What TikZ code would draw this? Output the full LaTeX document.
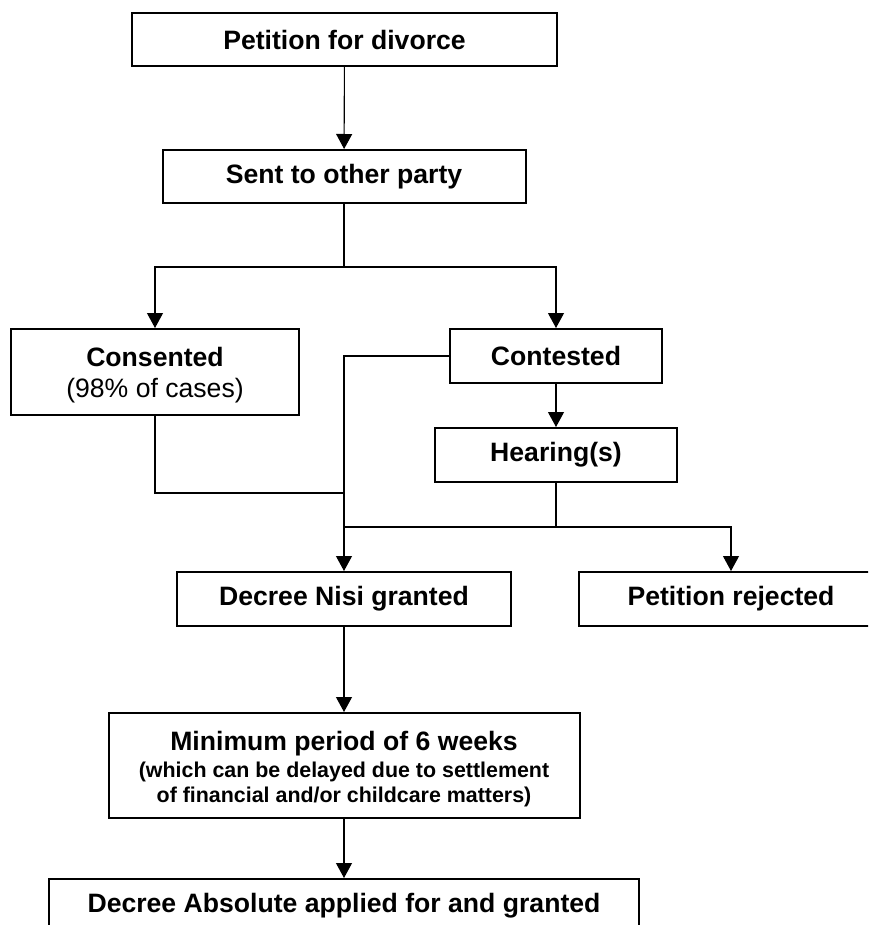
\documentclass[tikz,border=0pt]{standalone}
\usepackage{fontspec}
\setmainfont{Liberation Sans}
\usetikzlibrary{arrows.meta}
\begin{document}
\begin{tikzpicture}[x=1pt,y=-1pt,
  box/.style={draw=black,line width=2pt,inner sep=0pt,align=center,
    font=\fontsize{26.6}{32}\selectfont\bfseries},
  conn/.style={draw=black,line width=1.1pt},
  arr/.style={conn,-{Triangle[length=15pt,width=16pt]}}]
\useasboundingbox (0,0) rectangle (868,925);
\clip (0,0) rectangle (868,925);
\node[box,minimum width=425pt,minimum height=53pt] (pet) at (344.5,39.5) {Petition for divorce};
\node[box,minimum width=363pt,minimum height=53pt] (sent) at (344,176.5) {Sent to other party};
\node[box,minimum width=288pt,minimum height=86pt] (cons) at (155,372) {\rule{0pt}{25.5pt}Consented\\\mdseries(98\% of cases)};
\node[box,minimum width=212pt,minimum height=54pt] (cont) at (556,356) {Contested};
\node[box,minimum width=242pt,minimum height=54pt] (hear) at (556,455) {Hearing(s)};
\node[box,minimum width=334pt,minimum height=54pt] (nisi) at (344,599) {Decree Nisi granted};
\node[box,minimum width=304pt,minimum height=54pt] (rej) at (731,599) {Petition rejected};
\node[box,minimum width=471pt,minimum height=105pt,font=\fontsize{21.4}{25}\selectfont\bfseries] (min) at (344,765.5)
  {{\fontsize{26.6}{30}\selectfont\rule{0pt}{26pt}Minimum period of 6 weeks}\\[2pt](which can be delayed due to settlement\\of financial and/or childcare matters)};
\node[box,minimum width=590pt,minimum height=54pt] (abs) at (344,906) {Decree Absolute applied for and granted};
\coordinate (split) at (344,267);
\coordinate (cjoin) at (344,493);
\coordinate (hsplit) at (556,527);
\coordinate (hjoin) at (344,527);
\draw[arr] (pet) -- (sent);
\draw[conn] (sent.south) -- (split);
\draw[arr] (split) -| (cons.north);
\draw[arr] (split) -| (cont.north);
\draw[arr] (cont.west) -| (nisi.north);
\draw[conn] (cons.south) |- (cjoin);
\draw[arr] (cont) -- (hear);
\draw[conn] (hear.south) -- (hsplit) -- (hjoin);
\draw[arr] (hsplit) -| (rej.north);
\draw[arr] (nisi) -- (min);
\draw[arr] (min) -- (abs);
\end{tikzpicture}
\end{document}
